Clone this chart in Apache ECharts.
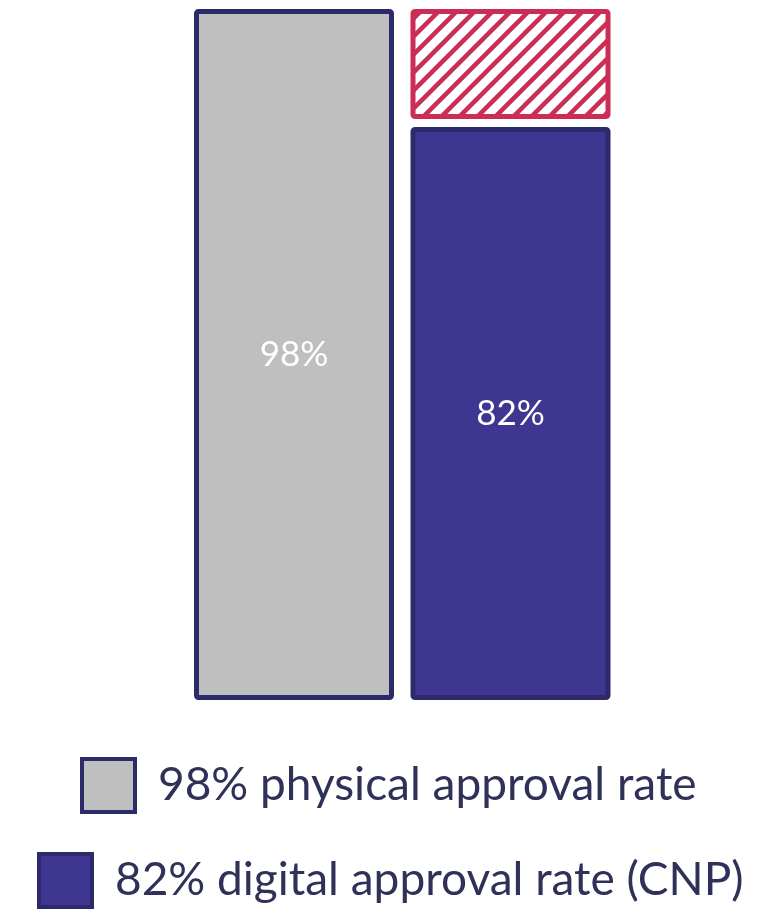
<!DOCTYPE html>
<html><head><meta charset="utf-8">
<script src="https://cdn.jsdelivr.net/npm/echarts@6/dist/echarts.min.js"></script>
<style>html,body{margin:0;padding:0;background:#fff}#c{width:763px;height:916px}</style>
</head><body><div id="c"></div>
<script>
const categories = ['Physical', 'Digital'];
const physicalValues = [98, null];
const digitalValues = [null, 82];
const gapValues = [null, 16];
const seriesNames = ['98% physical approval rate', '82% digital approval rate (CNP)', 'Difference'];

const BORDER = '#2c2a6a';
const GRAY = '#bfbfbf';
const NAVY = '#3e3690';
const RED = '#cc2d55';
const FONT = 'Lato, "Source Sans Pro", sans-serif';
const BAR_W = 195;

// hatch pattern
const tile = document.createElement('canvas');
const S = 18;
tile.width = S; tile.height = S;
const g = tile.getContext('2d');
g.fillStyle = '#fff'; g.fillRect(0, 0, S, S);
g.strokeStyle = RED; g.lineWidth = 4.5;
g.beginPath();
g.moveTo(-S/2, S/2); g.lineTo(S/2, -S/2);
g.moveTo(0, S); g.lineTo(S, 0);
g.moveTo(S/2, S*1.5); g.lineTo(S*1.5, S/2);
g.stroke();

const physicalData = physicalValues.map((v, i) => v == null ? null : [i, v]).filter(d => d);
const digitalData = digitalValues.map((v, i) => v == null ? null : [i, v]).filter(d => d);
const gapData = gapValues.map((v, i) => v == null ? null : [i, digitalValues[i], v]).filter(d => d);
const yMax = Math.max(...physicalValues.filter(v => v != null), ...gapData.map(d => d[1] + d[2]));

function barItem(api, fill, topShift) {
  const x = api.value(0), v = api.value(1);
  const base = api.coord([x, 0]);
  const top = api.coord([x, v]);
  const y0 = top[1] + topShift;
  return {type: 'group', children: [
    {type: 'rect', shape: {x: base[0] - BAR_W / 2, y: y0, width: BAR_W, height: base[1] - y0, r: 2},
     style: {fill: fill, stroke: BORDER, lineWidth: 5}},
    {type: 'text', style: {text: v + '%', x: base[0], y: (base[1] + y0) / 2, align: 'center', verticalAlign: 'middle',
      fill: '#fff', fontSize: 35, fontFamily: FONT}}
  ]};
}

const chart = echarts.init(document.getElementById('c'), null, {renderer: 'canvas'});
chart.setOption({
  animation: false,
  grid: {left: 185.75, right: 144.25, top: 11.5, bottom: 218.5},
  xAxis: {type: 'category', data: categories, show: false},
  yAxis: {type: 'value', min: 0, max: yMax, show: false},
  legend: [
    {data: [{name: seriesNames[0], icon: 'rect', itemStyle: {color: GRAY, borderColor: BORDER, borderWidth: 4}}],
     left: 80, top: 757, padding: 0, itemWidth: 53, itemHeight: 53, selectedMode: false,
     textStyle: {fontSize: 46, color: '#2f3158', fontFamily: FONT, padding: [0, 0, 0, 18]}},
    {data: [{name: seriesNames[1], icon: 'rect', itemStyle: {color: NAVY, borderColor: BORDER, borderWidth: 4}}],
     left: 37, top: 852, padding: 0, itemWidth: 53, itemHeight: 53, selectedMode: false,
     textStyle: {fontSize: 46, color: '#2f3158', fontFamily: FONT, padding: [0, 0, 0, 18]}}
  ],
  series: [
    {
      name: seriesNames[0], type: 'custom', data: physicalData,
      itemStyle: {color: GRAY}, encode: {x: 0, y: 1},
      renderItem: function (params, api) { return barItem(api, GRAY, 0); }
    },
    {
      name: seriesNames[1], type: 'custom', data: digitalData,
      itemStyle: {color: NAVY}, encode: {x: 0, y: 1},
      renderItem: function (params, api) { return barItem(api, NAVY, 6); }
    },
    {
      name: seriesNames[2], type: 'custom', data: gapData,
      itemStyle: {color: RED},
      encode: {x: 0, y: [1, 2]},
      renderItem: function (params, api) {
        const x = api.value(0), b = api.value(1), h = api.value(2);
        const bot = api.coord([x, b]);
        const top = api.coord([x, b + h]);
        const y1 = bot[1] - 7;
        return {type: 'rect', shape: {x: bot[0] - BAR_W / 2, y: top[1], width: BAR_W, height: y1 - top[1], r: 2},
          style: {fill: {image: tile, repeat: 'repeat'}, stroke: RED, lineWidth: 5}};
      }
    }
  ]
});
</script></body></html>
